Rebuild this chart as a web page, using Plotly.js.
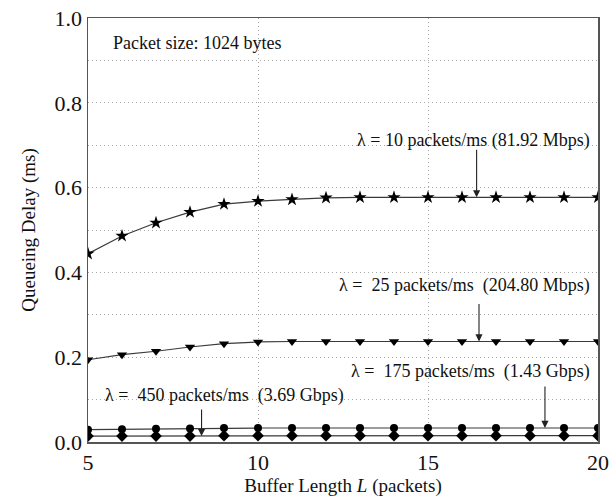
<!DOCTYPE html>
<html>
<head>
<meta charset="utf-8">
<script src="https://cdn.plot.ly/plotly-3.0.1.min.js"></script>
<style>html,body{margin:0;padding:0;background:#fff;}#chart{width:615px;height:497px;}</style>
</head>
<body>
<div id="chart"></div>
<script>
// Buffer length L (packets)
const bufferLength = [5, 6, 7, 8, 9, 10, 11, 12, 13, 14, 15, 16, 17, 18, 19, 20];
// Queueing delay (ms) for each arrival rate
const delay10  = [0.444, 0.486, 0.517, 0.542, 0.561, 0.568, 0.572, 0.576, 0.577, 0.577, 0.577, 0.577, 0.577, 0.577, 0.577, 0.577];
const delay25  = [0.194, 0.206, 0.214, 0.224, 0.232, 0.236, 0.237, 0.237, 0.237, 0.237, 0.237, 0.237, 0.237, 0.237, 0.237, 0.237];
const delay175 = [0.029, 0.030, 0.031, 0.032, 0.033, 0.033, 0.033, 0.033, 0.033, 0.033, 0.033, 0.033, 0.033, 0.033, 0.033, 0.033];
const delay450 = [0.014, 0.014, 0.014, 0.014, 0.015, 0.015, 0.015, 0.015, 0.015, 0.015, 0.015, 0.015, 0.015, 0.015, 0.015, 0.015];
const seriesLabels = [
  "λ = 10 packets/ms (81.92 Mbps)",
  "λ =\u00a0 25 packets/ms\u00a0 (204.80 Mbps)",
  "λ =\u00a0 175 packets/ms\u00a0 (1.43 Gbps)",
  "λ =\u00a0 450 packets/ms\u00a0 (3.69 Gbps)"
];
const noteText = "Packet size: 1024 bytes";
const yTickVals = [0, 0.2, 0.4, 0.6, 0.8, 1.0];
const yTickText = ["0.0", "0.2", "0.4", "0.6", "0.8", "1.0"];
const xTickVals = [5, 10, 15, 20];

const FONT = "Liberation Serif, Times New Roman, serif";
const lineColor = "#3a3a3a";

function trace(y, symbol, size, name) {
  return {
    x: bufferLength, y: y, type: "scatter", mode: "lines+markers", name: name,
    line: {color: lineColor, width: 1.2},
    marker: {symbol: symbol, size: size, color: "#000"},
    cliponaxis: true
  };
}

const data = [
  trace(delay10, "star", 10, seriesLabels[0]),
  trace(delay25, "triangle-down", 9, seriesLabels[1]),
  trace(delay175, "circle", 8, seriesLabels[2]),
  trace(delay450, "diamond", 9, seriesLabels[3])
];

function arrow(x, y, ay) {
  return {x: x, y: y, xref: "x", yref: "y", text: "", showarrow: true,
          ax: 0, ay: ay, arrowhead: 2, arrowsize: 1.3, arrowwidth: 1.1,
          arrowcolor: "#222", standoff: 0};
}
function label(text, x, y, anchor) {
  return {x: x, y: y, xref: "x", yref: "y", text: text, showarrow: false,
          xanchor: anchor, yanchor: "middle", font: {family: FONT, size: 18, color: "#111"}};
}

const annotations = [
  label(noteText, 5.68, 0.94, "left"),
  label(seriesLabels[0], 19.82, 0.712, "right"),
  arrow(16.43, delay10[11], -49),
  label(seriesLabels[1], 19.82, 0.370, "right"),
  arrow(16.5, delay25[11], -39),
  label(seriesLabels[2], 19.82, 0.167, "right"),
  arrow(18.44, delay175[13], -43),
  label(seriesLabels[3], 5.45, 0.110, "left"),
  arrow(8.34, delay450[3], -28)
];

const GRID = "#a8a8a8";
const DASH = "1px,3px";

const layout = {
  width: 615, height: 497,
  margin: {l: 88, r: 17, t: 18, b: 55},
  paper_bgcolor: "#fff", plot_bgcolor: "#fff",
  showlegend: false,
  font: {family: FONT, color: "#111"},
  xaxis: {
    range: [5, 20], tickvals: xTickVals, ticks: "", showgrid: true,
    gridcolor: GRID, griddash: DASH, gridwidth: 1,
    showline: true, mirror: true, linecolor: "#555", linewidth: 1.5, zeroline: false,
    tickfont: {family: FONT, size: 22, color: "#111"},
    title: {text: "Buffer Length <i>L</i> (packets)", font: {family: FONT, size: 19, color: "#111"}, standoff: 6}
  },
  yaxis: {
    range: [0, 1], tickvals: yTickVals, ticktext: yTickText, ticks: "", showgrid: true,
    gridcolor: GRID, griddash: DASH, gridwidth: 1,
    showline: true, mirror: true, linecolor: "#555", linewidth: 1.5, zeroline: false,
    tickfont: {family: FONT, size: 22, color: "#111"},
    minor: {dtick: 0.1, showgrid: true, gridcolor: GRID, griddash: DASH, gridwidth: 1, ticks: ""},
    title: {text: "Queueing Delay (ms)", font: {family: FONT, size: 19, color: "#111"}, standoff: 14}
  },
  annotations: annotations
};

Plotly.newPlot("chart", data, layout, {displayModeBar: false, staticPlot: true});
</script>
</body>
</html>
